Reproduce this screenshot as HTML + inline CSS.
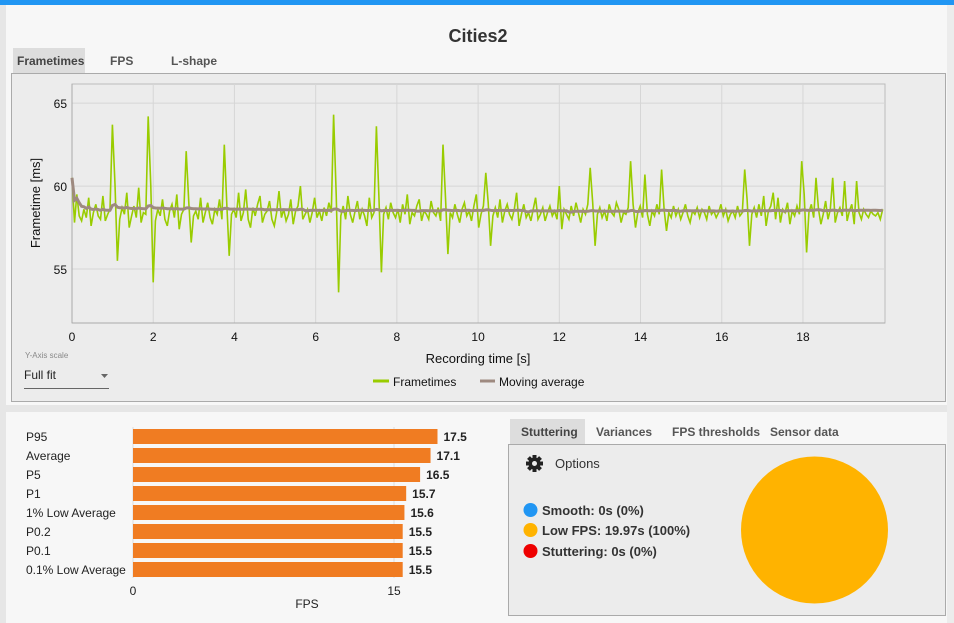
<!DOCTYPE html>
<html><head><meta charset="utf-8">
<style>
body{margin:0;width:954px;height:623px;overflow:hidden;background:#f7f7f7;font-family:"Liberation Sans",sans-serif;}
svg{position:absolute;left:0;top:0}
text{font-family:"Liberation Sans",sans-serif}
</style></head>
<body>
<svg width="954" height="623" viewBox="0 0 954 623">
  <rect x="0" y="0" width="954" height="623" fill="#f7f7f7"/>
  <rect x="0" y="0" width="954" height="5" fill="#2196f3"/>
  <rect x="0" y="5" width="6" height="618" fill="#e6e6e6"/>
  <rect x="947" y="5" width="7" height="618" fill="#ececec"/>
  <text x="478" y="42" font-size="18" font-weight="bold" fill="#333" text-anchor="middle">Cities2</text>
  <rect x="13" y="48" width="72" height="25" fill="#ddd"/>
  <text x="17" y="65" font-size="12" font-weight="bold" fill="#444">Frametimes</text>
  <text x="110" y="65" font-size="12" font-weight="bold" fill="#555">FPS</text>
  <text x="171" y="65" font-size="12" font-weight="bold" fill="#555">L-shape</text>
  <rect x="11.5" y="73.5" width="934" height="328" fill="#ececec" stroke="#aaa"/>
  <g id="plot"></g>
  <text x="478" y="363" font-size="13" fill="#111" text-anchor="middle">Recording time [s]</text>
  <text x="40" y="203" font-size="13" fill="#111" text-anchor="middle" transform="rotate(-90 40 203)">Frametime [ms]</text>
  <line x1="373" y1="381" x2="389" y2="381" stroke="#99cc00" stroke-width="3"/>
  <text x="393" y="386" font-size="12" fill="#111">Frametimes</text>
  <line x1="480" y1="381" x2="495" y2="381" stroke="#9e8a80" stroke-width="3"/>
  <text x="499" y="386" font-size="12" fill="#111">Moving average</text>
  <text x="25" y="358" font-size="8" fill="#888">Y-Axis scale</text>
  <g>
    <text x="24" y="379" font-size="12" fill="#222">Full fit</text>
    <path d="M101 374 L108 374 L104.5 378 Z" fill="#666"/>
    <line x1="24" y1="388.5" x2="109" y2="388.5" stroke="#666"/>
  </g>
  <rect x="6" y="405" width="941" height="7" fill="#e6e6e6"/>
  <g id="bars"></g>
  <text x="307" y="608" font-size="12" fill="#222" text-anchor="middle">FPS</text>
  <rect x="510" y="419" width="75" height="25" fill="#ddd"/>
  <text x="521" y="436" font-size="12" font-weight="bold" fill="#444">Stuttering</text>
  <text x="596" y="436" font-size="12" font-weight="bold" fill="#555">Variances</text>
  <text x="672" y="436" font-size="12" font-weight="bold" fill="#555">FPS thresholds</text>
  <text x="770" y="436" font-size="12" font-weight="bold" fill="#555">Sensor data</text>
  <rect x="508.5" y="444.5" width="437" height="171" fill="#ececec" stroke="#aaa"/>
  <g>
    <g transform="translate(534.5 463.5)" fill="#222">
      <circle r="6"/>
      <rect x="-2" y="-8.5" width="4" height="17"/>
      <rect x="-2" y="-8.5" width="4" height="17" transform="rotate(45)"/>
      <rect x="-2" y="-8.5" width="4" height="17" transform="rotate(90)"/>
      <rect x="-2" y="-8.5" width="4" height="17" transform="rotate(135)"/>
      <circle r="2.5" fill="#ececec"/>
    </g>
    <text x="555" y="468" font-size="13" fill="#333">Options</text>
  </g>
  <circle cx="530.5" cy="510" r="7" fill="#2196f3"/>
  <text x="542" y="515" font-size="13" font-weight="bold" fill="#333">Smooth:  0s (0%)</text>
  <circle cx="530.5" cy="530" r="7" fill="#ffb300"/>
  <text x="542" y="535" font-size="13" font-weight="bold" fill="#333">Low FPS:  19.97s (100%)</text>
  <circle cx="530.5" cy="551" r="7" fill="#ee0000"/>
  <text x="542" y="556" font-size="13" font-weight="bold" fill="#333">Stuttering:  0s (0%)</text>
  <circle cx="814.5" cy="530" r="73.5" fill="#ffb300"/>
</svg>
<script>
const frametimes=[
60.5,57.8,59.5,58.2,57.9,58.6,58.1,59.3,57.6,58.4,58.9,58.2,58.0,59.4,57.9,58.3,58.6,
63.7,60.1,55.5,58.0,58.7,58.3,59.6,57.5,58.2,58.8,58.1,59.9,57.8,58.4,58.3,64.2,60.0,
54.2,57.9,58.6,58.2,59.2,58.0,57.6,58.5,58.9,58.1,59.5,57.4,58.3,58.6,62.1,59.0,56.6,
58.2,58.5,58.0,59.3,57.8,58.4,59.0,58.1,57.7,58.6,58.3,59.2,58.0,62.5,58.9,55.8,58.3,
58.6,58.1,59.6,57.9,58.4,59.8,58.0,57.5,58.7,58.2,58.9,59.4,57.8,58.3,58.5,59.1,58.0,
57.6,58.4,59.7,58.1,58.6,57.9,58.3,59.2,57.7,58.5,58.8,60.0,58.0,58.3,58.6,57.8,58.4,
59.3,58.1,58.5,57.9,58.7,58.2,59.0,58.4,64.3,59.5,53.6,58.2,58.8,58.0,59.4,58.3,57.8,
58.5,59.1,58.0,58.6,58.2,57.6,59.3,58.1,58.4,63.6,59.2,54.8,58.3,58.7,58.0,59.0,58.4,
58.1,58.6,57.8,58.9,58.3,59.5,57.7,58.4,58.2,58.8,59.2,57.9,58.5,58.3,58.0,59.1,58.4,
58.2,58.7,57.9,62.5,59.3,55.9,58.4,58.1,58.9,58.3,57.8,58.6,59.0,58.2,58.5,57.9,58.8,
59.5,57.5,58.3,58.8,60.8,59.0,56.4,58.2,58.7,58.1,59.2,57.8,58.5,58.9,58.3,58.0,58.6,
59.6,57.6,58.3,58.9,58.1,58.4,57.9,58.6,59.3,58.0,58.3,58.7,57.9,58.4,58.8,58.2,58.5,
58.0,60.0,57.4,58.6,58.3,58.0,58.8,58.2,59.0,58.4,57.8,58.6,58.3,58.9,61.1,59.0,56.4,
58.3,58.7,58.1,58.5,57.9,58.9,58.4,58.2,59.0,58.6,57.8,58.4,58.3,58.7,61.5,58.9,57.5,
58.4,58.8,58.1,60.7,58.3,57.6,58.5,58.2,58.9,58.3,61.0,58.6,57.3,58.4,58.1,58.8,58.2,
58.6,58.0,58.4,58.9,58.2,57.8,58.5,58.3,58.7,58.1,58.6,58.4,58.0,58.8,58.3,58.5,58.1,
58.4,58.9,58.2,58.6,57.9,58.3,58.5,58.1,58.8,58.2,58.4,61.0,59.2,56.4,58.3,58.7,58.1,
58.9,58.2,59.4,57.6,58.5,58.8,59.6,58.0,59.3,57.8,58.6,58.4,59.0,57.7,58.5,58.2,58.8,
58.3,61.5,59.5,56.0,58.4,58.9,58.1,60.5,58.6,57.7,58.3,59.1,58.0,58.6,60.5,57.8,58.4,
58.7,58.2,60.3,57.9,58.5,58.9,57.7,60.3,58.4,58.0,58.6,58.3,58.1,58.5,58.3,58.2,58.4,
58.0,58.6];
const xTicks=[0,2,4,6,8,10,12,14,16,18];
const yTicks=[55,60,65];
const barLabels=["P95","Average","P5","P1","1% Low Average","P0.2","P0.1","0.1% Low Average"];
const barValues=[17.5,17.1,16.5,15.7,15.6,15.5,15.5,15.5];
const fpsTicks=[0,15];

const NS="http://www.w3.org/2000/svg";
function mk(tag,attrs,parent){const e=document.createElementNS(NS,tag);for(const k in attrs)e.setAttribute(k,attrs[k]);parent.appendChild(e);return e;}
const PX0=72,PX1=885,PY0=84,PY1=323;
const X=t=>PX0+(t-0)/(20.02-0)*(PX1-PX0);
const Y=v=>PY1-(v-51.75)/(66.15-51.75)*(PY1-PY0);
const plot=document.getElementById('plot');
const bg=mk('rect',{x:PX0,y:PY0,width:PX1-PX0,height:PY1-PY0,fill:'#ececec',stroke:'#bbb'},plot);


xTicks.forEach(t=>{
  const l=mk('line',{x1:X(t),x2:X(t),y1:PY0,y2:PY1,stroke:'#d6d6d6'},plot);
  
  
  const tx=mk('text',{x:X(t),y:341,'font-size':12,fill:'#111','text-anchor':'middle'},plot);
  tx.textContent=t;
  
  
});
yTicks.forEach(v=>{
  const l=mk('line',{x1:PX0,x2:PX1,y1:Y(v),y2:Y(v),stroke:'#d6d6d6'},plot);
  
  
  const tx=mk('text',{x:67,y:Y(v)+5,'font-size':12,fill:'#111','text-anchor':'end'},plot);
  tx.textContent=v;
  
  
});
mk('line',{x1:PX0,x2:PX1,y1:PY1,y2:PY1,stroke:'#aaa'},plot);
mk('line',{x1:PX0,x2:PX0,y1:PY0,y2:PY1,stroke:'#aaa'},plot);
let t=0,pts=[],ma=[];
frametimes.forEach((v,i)=>{
  const x=X(t).toFixed(1);
  pts.push(x+','+Y(v).toFixed(1));
  const w=frametimes.slice(Math.max(0,i-80),i+1);const m=w.reduce((a,b)=>a+b,0)/w.length;
  ma.push(x+','+Y(m).toFixed(1));t+=v/1000;});
const ft=mk('polyline',{points:pts.join(' '),fill:'none',stroke:'#99cc00','stroke-width':1.6},plot);


const mav=mk('polyline',{points:ma.join(' '),fill:'none',stroke:'#9e8a80','stroke-width':3},plot);



const bars=document.getElementById('bars');
const BX=v=>133+v*(394-133)/15;
const by0=429,pitch=19;
fpsTicks.forEach(v=>{
  const l=mk('line',{x1:BX(v),x2:BX(v),y1:427,y2:578,stroke:'#ddd'},bars);
  
  
  const tx=mk('text',{x:BX(v),y:595,'font-size':12,fill:'#222','text-anchor':'middle'},bars);
  tx.textContent=v;
  
  
});
barValues.forEach((v,i)=>{
  const y=by0+i*pitch;
  const r=mk('rect',{x:BX(0),y:y,width:BX(v)-BX(0),height:15,fill:'#f07c22'},bars);
  
  
  const lb=mk('text',{x:26,y:y+12,'font-size':12,fill:'#222'},bars);
  lb.textContent=barLabels[i];
  
  
  const vl=mk('text',{x:BX(v)+6,y:y+12,'font-size':12,'font-weight':'bold',fill:'#222'},bars);
  vl.textContent=v.toFixed(1);
  
  
});
</script>
</body></html>
